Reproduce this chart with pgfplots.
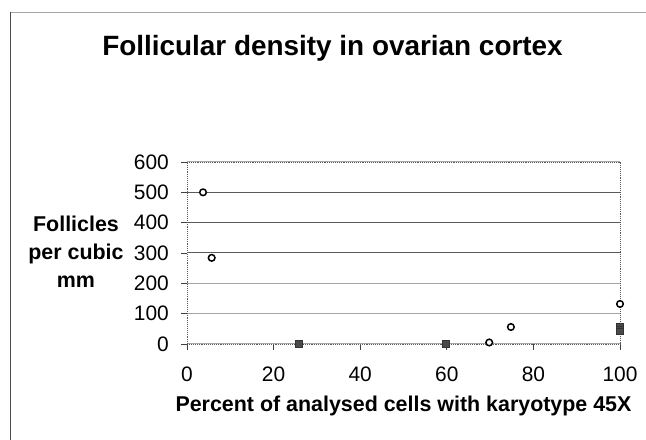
\documentclass[border=0pt]{standalone}
\usepackage{pgfplots}
\pgfplotsset{compat=1.18}
\usepackage{fontspec}
\setmainfont{Liberation Sans}
\definecolor{gridlight}{HTML}{A6A6A6}
\definecolor{griddark}{HTML}{5A5A5A}
\definecolor{markfill}{HTML}{4A4A4A}
\begin{document}
\begin{tikzpicture}[x=1bp,y=1bp]
\path[use as bounding box] (0,0) rectangle (646,440);
\draw[color=gridlight, line width=1.2bp] (10.5,427.5) -- (646,427.5);
\draw[color=black!70, line width=1.2bp] (10.5,427.5) -- (10.5,0);
\begin{axis}[
  at={(187bp,96bp)}, anchor=south west,
  scale only axis, width=433bp, height=182bp,
  xmin=0, xmax=100, ymin=0, ymax=600,
  xtick={0,20,40,60,80,100},
  ytick={0,100,200,600},
  extra y ticks={300,400,500},
  extra y tick style={grid=major, major grid style={color=griddark, line width=1bp}},
  ymajorgrids,
  major grid style={color=gridlight, line width=1bp},
  axis line style={color=black!65, line width=0.9bp, densely dotted},
  tick style={color=black!75, line width=0.8bp, solid},
  tick align=outside, major tick length=6bp,
  xtick pos=bottom, ytick pos=left,
  /pgf/number format/assume math mode=true,
  tick label style={font=\fontsize{21}{25}\selectfont},
  yticklabel style={anchor=east, inner sep=0pt, xshift=-12bp},
  xticklabel style={anchor=north, inner sep=0pt, yshift=-17bp},
  clip=false,
]
\addplot[only marks, mark=*, mark size=3.3bp, mark options={fill=white, draw=black, line width=1.5bp}]
  coordinates {(3.7,500) (5.7,284) (69.8,5) (74.8,56) (100,132)};
\addplot[only marks, mark=square*, mark size=3.3bp, mark options={fill=markfill, draw=black!80, line width=0.6bp}]
  coordinates {(25.8,1) (59.8,1) (100,56) (100,48) (100,42)};
\end{axis}
\node[anchor=base, font=\fontsize{28}{34}\selectfont\bfseries] at (332.5,384) {Follicular density in ovarian cortex};
\node[anchor=base, font=\fontsize{21.5}{26}\selectfont\bfseries] at (403.5,28) {Percent of analysed cells with karyotype 45X};
\node[anchor=base, font=\fontsize{21.5}{26}\selectfont\bfseries] at (76,208.3) {Follicles};
\node[anchor=base, font=\fontsize{21.5}{26}\selectfont\bfseries] at (76,180) {per cubic};
\node[anchor=base, font=\fontsize{21.5}{26}\selectfont\bfseries] at (76,152) {mm};
\end{tikzpicture}
\end{document}
